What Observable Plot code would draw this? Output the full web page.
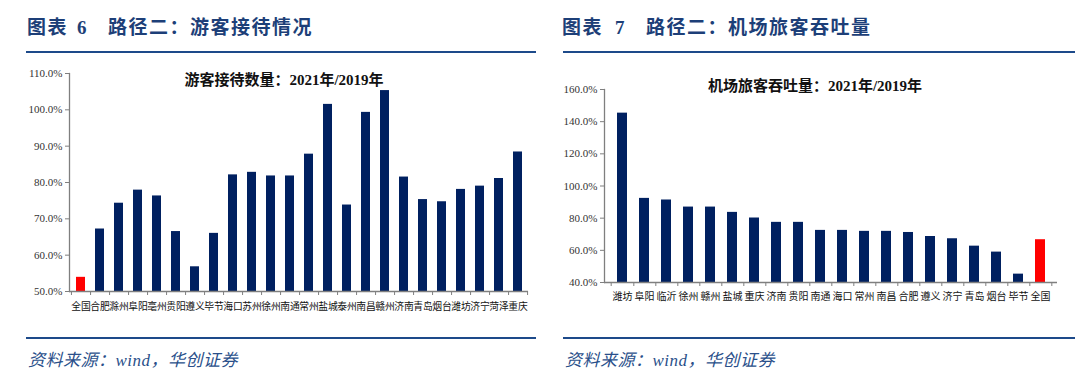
<!DOCTYPE html>
<html><head><meta charset="utf-8">
<script src="https://cdn.jsdelivr.net/npm/d3@7"></script>
<script src="https://cdn.jsdelivr.net/npm/@observablehq/plot@0.6"></script>
<style>
body{margin:0;background:#fff;}
#root{position:relative;width:1080px;height:383px;overflow:hidden;background:#fff;}
.hdr{position:absolute;top:12px;font-family:"Liberation Serif","Noto Sans CJK SC",serif;font-weight:bold;font-size:19px;color:#1d3f78;white-space:nowrap;letter-spacing:1.5px;}
.hdr span{display:inline-block;}
.hline{position:absolute;height:2px;background:#1d4a8a;}
.src{position:absolute;top:346px;font-family:"Liberation Serif","Noto Sans CJK SC",serif;font-style:italic;font-size:17px;color:#2a4f8a;letter-spacing:0.5px;white-space:pre;}
.ctitle{position:absolute;font-family:"Liberation Serif","Noto Sans CJK SC",serif;font-weight:bold;font-size:15px;color:#111;white-space:pre;transform:translateX(-50%);}
.chart{position:absolute;top:60px;}
</style>
</head><body>
<div id="root">
  <div class="hdr" style="left:27px"><span>图表</span><span style="margin-left:9px">6</span><span style="margin-left:20px">路径二：游客接待情况</span></div>
  <div class="hline" style="left:26px;width:510px;top:51px"></div>
  <div class="hdr" style="left:562px"><span>图表</span><span style="margin-left:12px">7</span><span style="margin-left:20px">路径二：机场旅客吞吐量</span></div>
  <div class="hline" style="left:563px;width:512px;top:51px"></div>
  <div class="hline" style="left:26px;width:510px;top:337px"></div>
  <div class="hline" style="left:563px;width:512px;top:337px"></div>
  <div class="src" style="left:28px">资料来源：wind，华创证券</div>
  <div class="src" style="left:565px">资料来源：wind，华创证券</div>
  <div id="c1" class="chart" style="left:0px"></div>
  <div id="c2" class="chart" style="left:540px"></div>
  <div class="ctitle" style="left:284px;top:68px">游客接待数量：2021年/2019年</div>
  <div class="ctitle" style="left:815px;top:74px">机场旅客吞吐量：2021年/2019年</div>
</div>
<script>
// Chart 1: 游客接待数量 2021/2019 (%)
const touristCities = ["全国","合肥","滁州","阜阳","亳州","贵阳","遵义","毕节","海口","苏州","徐州","南通","常州","盐城","泰州","南昌","赣州","济南","青岛","烟台","潍坊","济宁","菏泽","重庆"];
const touristValues = [53.9,67.2,74.3,77.9,76.3,66.5,56.8,66.0,82.1,82.8,81.8,81.8,87.8,101.5,73.8,99.3,105.3,81.5,75.3,74.7,78.1,79.0,81.1,88.4];
const touristTicks = [50,60,70,80,90,100,110];

// Chart 2: 机场旅客吞吐量 2021/2019 (%)
const airportCities = ["潍坊","阜阳","临沂","徐州","赣州","盐城","重庆","济南","贵阳","南通","海口","常州","南昌","合肥","遵义","济宁","青岛","烟台","毕节","全国"];
const airportValues = [145.3,92.3,91.3,86.9,86.9,83.6,80.1,77.4,77.4,72.4,72.4,71.8,71.8,71.1,68.6,67.2,62.6,58.9,45.2,66.6];
const airportTicks = [40,60,80,100,120,140,160];

const NAVY = "#002060", RED = "#ff0000", AXIS = "#7f7f7f";

function makeChart(cats, vals, ticks, o) {
  const data = cats.map((c, i) => ({c, v: vals[i]}));
  const n = cats.length;
  const step = (o.width - o.ml - o.mr) / n;
  const pad = o.pad;
  return Plot.plot({
    width: o.width, height: o.height,
    marginLeft: o.ml, marginRight: o.mr, marginTop: o.mt, marginBottom: o.mb,
    style: {background: "transparent", overflow: "visible"},
    x: {domain: cats, paddingInner: pad, paddingOuter: pad / 2, align: 0.5, label: null},
    y: {domain: [ticks[0], ticks[ticks.length - 1]], label: null},
    marks: [
      Plot.barY(data, {x: "c", y1: ticks[0], y2: "v", fill: d => d.c === "全国" ? RED : NAVY}),
      Plot.frame({anchor: "left", stroke: AXIS, strokeWidth: 1.3}),
      Plot.ruleY([ticks[0]], {stroke: AXIS, strokeWidth: 1.3}),
      Plot.axisY({ticks: ticks, tickSize: 4, tickPadding: 3, stroke: AXIS, tickFormat: d => d.toFixed(1) + "%",
        fontFamily: "Liberation Serif, serif", fontSize: 11, fill: "#333", label: null}),
      Plot.axisX({tickSize: 4, stroke: AXIS, tickFormat: () => "", dx: step / 2, label: null}),
      Plot.axisX({tickSize: 4, stroke: AXIS, tickFormat: () => "", dx: -step / 2, ticks: [cats[0]], label: null}),
      Plot.axisX({tickSize: 0, tickPadding: o.lp, fontFamily: "Noto Sans CJK SC, sans-serif", fontSize: o.fs, fill: "#111", label: null})
    ]
  });
}

document.getElementById("c1").append(makeChart(touristCities, touristValues, touristTicks,
  {width: 540, height: 260, ml: 69, mr: 12, mt: 13, mb: 29, pad: 0.55, fs: 9.8, lp: 12}));
document.getElementById("c2").append(makeChart(airportCities, airportValues, airportTicks,
  {width: 540, height: 260, ml: 64, mr: 23, mt: 29, mb: 38, pad: 0.56, fs: 10, lp: 10}));
</script>
</body></html>
